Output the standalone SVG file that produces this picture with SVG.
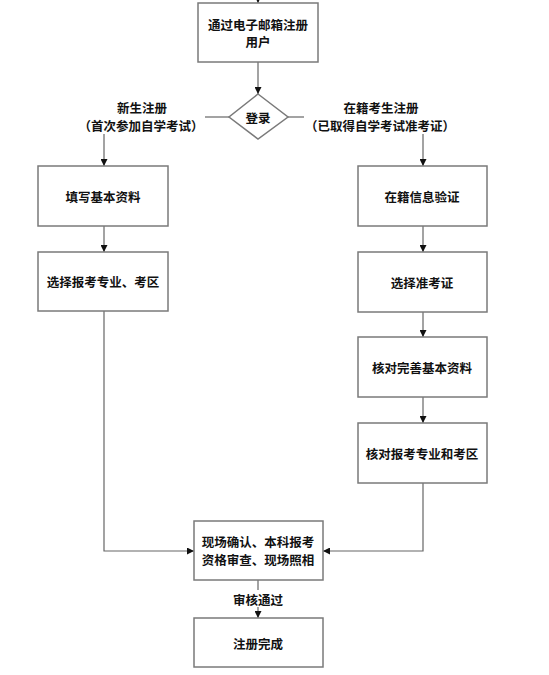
<svg xmlns="http://www.w3.org/2000/svg" width="549" height="675" viewBox="0 0 549 675">
<style>
.b{fill:#fff;stroke:#7a7a7a;stroke-width:1.5}
.t{font-family:"Noto Sans CJK SC","Liberation Sans",sans-serif;font-size:12.5px;font-weight:bold;fill:#111;text-anchor:middle;dominant-baseline:central}
.c{fill:none;stroke:#666;stroke-width:1.2}
</style>
<defs>
<marker id="a" viewBox="0 0 10 10" refX="10" refY="5" markerWidth="7" markerHeight="7" markerUnits="userSpaceOnUse" orient="auto"><path d="M0,0L10,5L0,10z" fill="#111"/></marker>
</defs>
<rect width="549" height="675" fill="#fff"/>
<g id="connectors">
<path class="c" d="M258,-2V3" marker-end="url(#a)"/>
<path class="c" d="M258,62V94" marker-end="url(#a)"/>
<path class="c" d="M229,117H205"/>
<path class="c" d="M288,117H304"/>
<path class="c" d="M104,134V166" marker-end="url(#a)"/>
<path class="c" d="M423,134V166" marker-end="url(#a)"/>
<path class="c" d="M104,226V252" marker-end="url(#a)"/>
<path class="c" d="M423,226V252" marker-end="url(#a)"/>
<path class="c" d="M423,312V337" marker-end="url(#a)"/>
<path class="c" d="M423,397V423" marker-end="url(#a)"/>
<path class="c" d="M104,311V551H194" marker-end="url(#a)"/>
<path class="c" d="M423,483V551H323" marker-end="url(#a)"/>
<path class="c" d="M258,580V590"/>
<path class="c" d="M258,607V618" marker-end="url(#a)"/>
<text class="t" x="258" y="599">审核通过</text>
</g>
<g id="n_register"><rect class="b" x="198" y="3" width="120" height="59"/><text class="t" x="258" y="24">通过电子邮箱注册</text><text class="t" x="258" y="41.5">用户</text></g>
<g id="n_login"><path class="b" d="M258,94L288,117L258,139L229,117z"/><text class="t" x="258" y="117">登录</text></g>
<g id="l_new"><text class="t" x="142" y="107.5">新生注册</text><text class="t" x="141" y="125">（首次参加自学考试）</text></g>
<g id="l_old"><text class="t" x="381" y="107.5">在籍考生注册</text><text class="t" x="380" y="125">（已取得自学考试准考证）</text></g>
<g id="n_fill"><rect class="b" x="38" y="166" width="130" height="60"/><text class="t" x="103" y="196">填写基本资料</text></g>
<g id="n_choose"><rect class="b" x="38" y="252" width="130" height="59"/><text class="t" x="103" y="281">选择报考专业、考区</text></g>
<g id="n_verify"><rect class="b" x="358" y="166" width="129" height="60"/><text class="t" x="422" y="196">在籍信息验证</text></g>
<g id="n_ticket"><rect class="b" x="358" y="252" width="129" height="60"/><text class="t" x="422" y="282">选择准考证</text></g>
<g id="n_check"><rect class="b" x="358" y="337" width="129" height="60"/><text class="t" x="422" y="367">核对完善基本资料</text></g>
<g id="n_major"><rect class="b" x="358" y="423" width="129" height="60"/><text class="t" x="422" y="453">核对报考专业和考区</text></g>
<g id="n_site"><rect class="b" x="194" y="521" width="129" height="59"/><text class="t" x="258" y="541.5">现场确认、本科报考</text><text class="t" x="258" y="559">资格审查、现场照相</text></g>
<g id="n_done"><rect class="b" x="194" y="618" width="129" height="49"/><text class="t" x="258" y="643">注册完成</text></g>
</svg>
